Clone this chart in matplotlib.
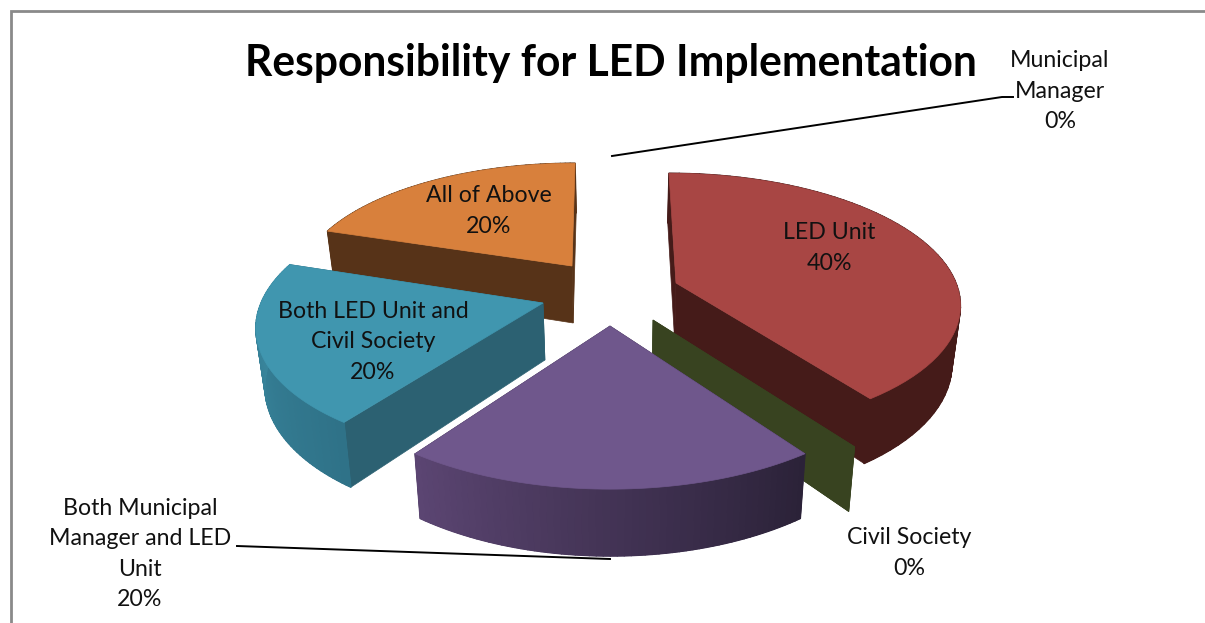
#encoding=utf-8
import numpy as np
import matplotlib
matplotlib.use('Agg')
import matplotlib.pyplot as plt
from matplotlib.collections import PolyCollection
from matplotlib.colors import to_rgb

# data, clockwise from the top of the pie
names = ['LED Unit', 'Civil Society', 'Both Municipal\nManager and LED\nUnit',
         'Both LED Unit and\nCivil Society', 'All of Above', 'Municipal\nManager']
shares = [40, 0, 20, 20, 20, 0]

# look of every slice, same order
apex_x = [676, 653, 610, 543, 572, 612]
apex_y = [283, 320, 326, 303, 266, 156]
radius_x = [280, 302, 292, 282, 270, 270]
radius_y = [126, 138, 139, 130, 118, 118]
skew = [0.064, 0, 0, -0.09, -0.03, 0]
top_col = ['#A84644', '#4F6228', '#6F578C', '#4096AF', '#D8803C', '#8064A2']
wall_col = ['#451B19', '#384320', '#2C2239', '#2C6172', '#573318', '#8064A2']
side_from = ['#451B19', '#384320', '#2B2238', '#2F7288', '#573318', '#8064A2']
side_to = ['#451B19', '#384320', '#5B4572', '#3C8CA3', '#573318', '#8064A2']
label_x = [829, 909, 140, 373, 489, 1060]
label_y = [248, 553, 554, 342, 211, 91]
draw_order = [4, 0, 1, 3, 2]

persp = 0.148    # how much nearer parts of the pie grow
depth = 57       # thickness of the pie in pixels
shrink = 0.025   # narrowing of the underside
mid_x = 620

plt.rcParams['font.family'] = ['Lato', 'DejaVu Sans']
fig = plt.figure(figsize=(12.05, 6.23), dpi=100)
ax = fig.add_axes([0, 0, 1, 1])
ax.set_xlim(0, 1205)
ax.set_ylim(623, 0)
ax.axis('off')


def project(i, theta, r=1.0, low=False):
    u = r * np.sin(theta)
    v = -r * np.cos(theta)
    w = 1 - persp * v
    dy = radius_y[i] * v / w
    x = apex_x[i] + radius_x[i] * u / w + skew[i] * dy
    y = apex_y[i] + dy
    if low:
        x = x - (x - mid_x) * shrink
        y = y + depth / w
    return np.column_stack([x, y])


def draw_slice(i, start, end, z):
    # flat walls on the two cut sides first
    for a in (start, end):
        quad = np.vstack([project(i, np.array([a]), 0.0),
                          project(i, np.array([a])),
                          project(i, np.array([a]), low=True),
                          project(i, np.array([a]), 0.0, low=True)])
        ax.fill(quad[:, 0], quad[:, 1], color=wall_col[i], lw=0.5, zorder=z)
    if end <= start:
        return
    # outer rim as small strips so the shading can run along it
    th = np.linspace(start, end, 61)
    up = project(i, th)
    lo = project(i, th, low=True)
    rim = np.vstack([up, lo[::-1]])
    c0 = np.array(to_rgb(side_from[i]))
    c1 = np.array(to_rgb(side_to[i]))
    ax.fill(rim[:, 0], rim[:, 1], color=(c0 + c1) / 2, lw=0.5, zorder=z)
    strips = [[up[k], up[k + 1], lo[k + 1], lo[k]] for k in range(len(th) - 1)]
    t = np.linspace(0, 1, len(strips))[:, None]
    cols = c0 + (c1 - c0) * t
    ax.add_collection(PolyCollection(strips, facecolors=cols, edgecolors=cols, lw=1.0, zorder=z))
    top = np.vstack([project(i, np.array([start]), 0.0), up])
    ax.fill(top[:, 0], top[:, 1], color=top_col[i], lw=0.5, zorder=z)


cum = np.cumsum([0] + shares)
starts = np.radians(cum[:-1] * 3.6)
ends = np.radians(cum[1:] * 3.6)

for n, i in enumerate(draw_order):
    draw_slice(i, starts[i], ends[i], 3 + n)

# leader lines
ax.plot([612, 1002, 1013], [156, 97, 97], color='k', lw=1.4, zorder=10)
ax.plot([237, 610], [546, 559], color='k', lw=1.4, zorder=10)

for i in range(len(names)):
    ax.text(label_x[i], label_y[i], '%s\n%d%%' % (names[i], shares[i]), ha='center', va='center',
            multialignment='center', fontsize=16.7, linespacing=1.56, color='#111111', zorder=11)

ax.text(611, 63, 'Responsibility for LED Implementation', ha='center', va='center',
        fontsize=30.7, fontweight='bold', color='k', zorder=11)

# chart frame, cut off at right and bottom
ax.plot([11, 11, 1205], [623, 11, 11], color='#8A8A8A', lw=2.0, zorder=1, solid_joinstyle='miter')

fig.savefig('out.png', dpi=100)
